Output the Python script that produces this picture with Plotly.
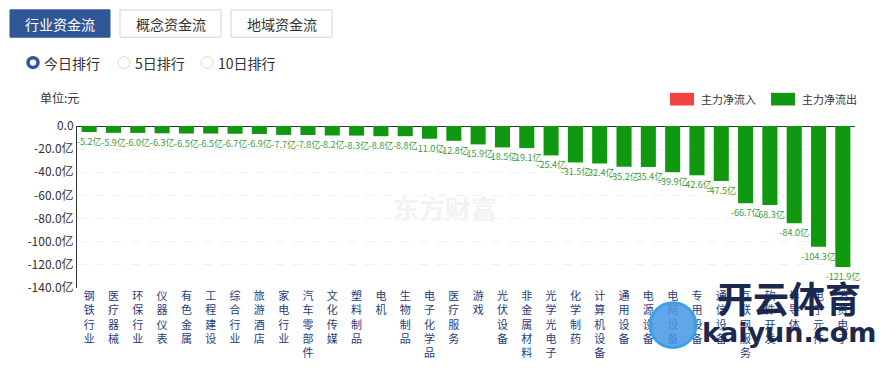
import plotly.graph_objects as go

categories = ["钢铁行业", "医疗器械", "环保行业", "仪器仪表", "有色金属", "工程建设", "综合行业", "旅游酒店",
              "家电行业", "汽车零部件", "文化传媒", "塑料制品", "电机", "生物制品", "电子化学品", "医疗服务",
              "游戏", "光伏设备", "非金属材料", "光学光电子", "化学制药", "计算机设备", "通用设备", "电源设备",
              "电网设备", "专用设备", "通信设备", "互联网服务", "软件开发", "半导体", "电子元件", "消费电子"]
values = [-5.2, -5.9, -6.0, -6.3, -6.5, -6.5, -6.7, -6.9, -7.7, -7.8, -8.2, -8.3, -8.8, -8.8, -11.0, -12.8,
          -15.9, -18.5, -19.1, -25.4, -31.5, -32.4, -35.2, -35.4, -39.9, -42.6, -47.5, -66.7, -68.3, -84.0,
          -104.3, -121.9]
ytick_vals = [0, -20, -40, -60, -80, -100, -120, -140]
ytick_text = ["0.0", "-20.0亿", "-40.0亿", "-60.0亿", "-80.0亿", "-100.0亿", "-120.0亿", "-140.0亿"]
buttons = ["行业资金流", "概念资金流", "地域资金流"]
radios = ["今日排行", "5日排行", "10日排行"]
legend_names = ["主力净流入", "主力净流出"]

W, H = 881, 372
L, R, T, B = 77, 855, 126, 292
FONT = "Noto Sans CJK SC"
GREEN = "#109910"
RED = "#f24343"


def px(x):
    return (x - L) / (R - L)


def py(y):
    return (B - y) / (B - T)


fig = go.Figure()
fig.add_trace(go.Bar(
    x=list(range(len(categories))), y=values,
    marker=dict(color=GREEN, line=dict(width=0)),
    text=[f"{v:.1f}亿" for v in values], textposition="outside",
    textfont=dict(size=9, color="#3c9a3c", family=FONT),
    constraintext="none", cliponaxis=False, showlegend=False,
    hoverinfo="skip",
))

shapes = []
annotations = []

# top buttons
btn_x = [(10, 110), (120, 221), (231, 332)]
for i, (name, (x0, x1)) in enumerate(zip(buttons, btn_x)):
    active = i == 0
    shapes.append(dict(type="rect", xref="paper", yref="paper",
                       x0=px(x0), x1=px(x1), y0=py(35), y1=py(7),
                       fillcolor="#2f5797" if active else "white",
                       line=dict(color="#2f5797" if active else "#d4d4d4", width=1), layer="above"))
    annotations.append(dict(xref="paper", yref="paper", x=px((x0 + x1) / 2), y=py(21),
                            text=name, showarrow=False, xanchor="center", yanchor="middle",
                            font=dict(size=14, color="white" if active else "#333333", family=FONT)))

# radio buttons
radio_x = [33, 124, 207]
for i, (name, cx) in enumerate(zip(radios, radio_x)):
    if i == 0:
        shapes.append(dict(type="circle", xref="paper", yref="paper",
                           x0=px(cx - 5), x1=px(cx + 5), y0=py(66), y1=py(56),
                           fillcolor="white", line=dict(color="#2f5797", width=3.5)))
    else:
        shapes.append(dict(type="circle", xref="paper", yref="paper",
                           x0=px(cx - 6), x1=px(cx + 6), y0=py(67), y1=py(55),
                           fillcolor="white", line=dict(color="#d8d8d8", width=1)))
    annotations.append(dict(xref="paper", yref="paper", x=px(cx + 9), y=py(61),
                            text=name, showarrow=False, xanchor="left", yanchor="middle",
                            font=dict(size=14, color="#333333", family=FONT)))

# unit label
annotations.append(dict(xref="paper", yref="paper", x=px(38), y=py(97), text="单位:元",
                        showarrow=False, xanchor="left", yanchor="middle",
                        font=dict(size=12, color="#333333", family=FONT)))

# legend
leg = [(670, RED, legend_names[0]), (771, GREEN, legend_names[1])]
for x0, col, name in leg:
    shapes.append(dict(type="rect", xref="paper", yref="paper", x0=px(x0), x1=px(x0 + 24),
                       y0=py(105), y1=py(92), fillcolor=col, line=dict(width=0)))
    annotations.append(dict(xref="paper", yref="paper", x=px(x0 + 29), y=py(98.5), text=name,
                            showarrow=False, xanchor="left", yanchor="middle",
                            font=dict(size=11, color="#333333", family=FONT)))

# watermarks
annotations.append(dict(xref="paper", yref="paper", x=px(445), y=py(209), text="<b>东方财富</b>",
                        showarrow=False, xanchor="center", yanchor="middle",
                        font=dict(size=26, color="#f2f2f2", family=FONT)))
annotations.append(dict(xref="paper", yref="paper", x=px(789), y=py(301), text="<b>开云体育</b>",
                        showarrow=False, xanchor="center", yanchor="middle",
                        font=dict(size=36, color="#1b2850", family=FONT)))
annotations.append(dict(xref="paper", yref="paper", x=px(789), y=py(338), text="<b>kaiyun.com</b>",
                        showarrow=False, xanchor="center", yanchor="middle",
                        font=dict(size=27, color="#1b2850", family="DejaVu Sans")))
shapes.append(dict(type="circle", xref="paper", yref="paper", x0=px(650), x1=px(696),
                   y0=py(353), y1=py(307), fillcolor="rgba(70,150,230,0.85)",
                   line=dict(color="#3aa0e8", width=3)))

fig.update_layout(
    width=W, height=H,
    margin=dict(l=L, r=W - R, t=T, b=H - B),
    paper_bgcolor="white", plot_bgcolor="white",
    bargap=0.38,
    font=dict(family=FONT),
    shapes=shapes, annotations=annotations,
    showlegend=False,
    xaxis=dict(
        range=[-0.5, len(categories) - 0.5],
        tickmode="array", tickvals=list(range(len(categories))),
        ticktext=["<br>".join(list(c)) for c in categories],
        tickfont=dict(size=11, color="#1f3c7c", family=FONT),
        ticks="", showgrid=False, showline=False, zeroline=False, fixedrange=True,
    ),
    yaxis=dict(
        range=[-140, 0], tickmode="array", tickvals=ytick_vals, ticktext=ytick_text,
        tickfont=dict(size=12, color="#333333", family=FONT),
        showgrid=True, gridcolor="#f0f0f0", griddash="dash", gridwidth=1,
        showline=True, linecolor="#333333", linewidth=1, ticks="",
        zeroline=True, zerolinecolor="#333333", zerolinewidth=1, fixedrange=True,
    ),
)

fig.write_html("out.html")
